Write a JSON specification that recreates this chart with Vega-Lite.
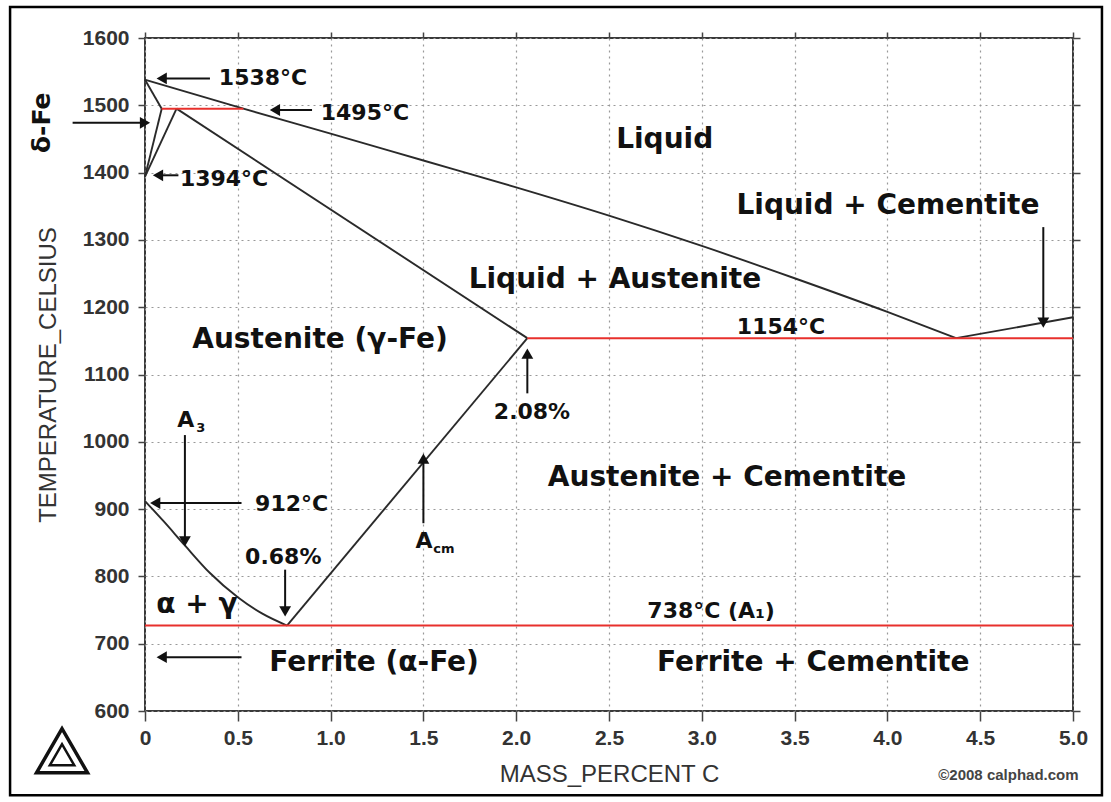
{
  "$schema": "https://vega.github.io/schema/vega-lite/v6.json",
  "width": 928,
  "height": 673,
  "autosize": {"type": "none"},
  "padding": {"left": 145, "top": 38, "right": 38, "bottom": 91},
  "background": "white",
  "config": {
    "view": {"stroke": "#3a3a3a", "strokeWidth": 2},
    "axis": {
      "labelFont": "Liberation Sans",
      "titleFont": "Liberation Sans",
      "labelFontSize": 21,
      "labelFontWeight": "bold",
      "labelColor": "#333",
      "titleColor": "#333",
      "titleFontWeight": "normal",
      "titleFontSize": 24,
      "tickColor": "#444",
      "tickWidth": 1.5,
      "domain": false,
      "gridColor": "#999999",
      "gridDash": [2, 4],
      "gridWidth": 1.2
    }
  },
  "datasets": {
    "bounds": [
      {"seg": "delta_solidus", "ord": 0, "c": 0, "t": 1538},
      {"seg": "delta_solidus", "ord": 1, "c": 0.09, "t": 1495},
      {"seg": "liquidus", "ord": 0, "c": 0, "t": 1538},
      {"seg": "liquidus", "ord": 1, "c": 0.53, "t": 1495},
      {"seg": "liquidus", "ord": 2, "c": 1.0, "t": 1458},
      {"seg": "liquidus", "ord": 3, "c": 1.5, "t": 1418},
      {"seg": "liquidus", "ord": 4, "c": 2.0, "t": 1378},
      {"seg": "liquidus", "ord": 5, "c": 2.5, "t": 1336},
      {"seg": "liquidus", "ord": 6, "c": 3.0, "t": 1291},
      {"seg": "liquidus", "ord": 7, "c": 3.5, "t": 1243},
      {"seg": "liquidus", "ord": 8, "c": 4.0, "t": 1193},
      {"seg": "liquidus", "ord": 9, "c": 4.37, "t": 1154},
      {"seg": "delta_gamma_1", "ord": 0, "c": 0.09, "t": 1495},
      {"seg": "delta_gamma_1", "ord": 1, "c": 0, "t": 1394},
      {"seg": "delta_gamma_2", "ord": 0, "c": 0.17, "t": 1495},
      {"seg": "delta_gamma_2", "ord": 1, "c": 0, "t": 1394},
      {"seg": "solidus", "ord": 0, "c": 0.17, "t": 1495},
      {"seg": "solidus", "ord": 1, "c": 2.06, "t": 1154},
      {"seg": "A3", "ord": 0, "c": 0, "t": 912},
      {"seg": "A3", "ord": 1, "c": 0.1, "t": 882},
      {"seg": "A3", "ord": 2, "c": 0.215, "t": 846},
      {"seg": "A3", "ord": 3, "c": 0.35, "t": 805},
      {"seg": "A3", "ord": 4, "c": 0.5, "t": 769},
      {"seg": "A3", "ord": 5, "c": 0.63, "t": 745},
      {"seg": "A3", "ord": 6, "c": 0.765, "t": 727},
      {"seg": "Acm", "ord": 0, "c": 0.765, "t": 727},
      {"seg": "Acm", "ord": 1, "c": 2.06, "t": 1154},
      {"seg": "cem_liquidus", "ord": 0, "c": 4.37, "t": 1154},
      {"seg": "cem_liquidus", "ord": 1, "c": 5.0, "t": 1185}
    ],
    "isotherms": [
      {"c1": 0.09, "c2": 0.53, "t": 1495},
      {"c1": 2.06, "c2": 5.0, "t": 1154},
      {"c1": 0.0, "c2": 5.0, "t": 727}
    ],
    "arrows": [
      {"x": 0.35, "y": 1540, "x2": 0.09, "y2": 1540, "dir": "left"},
      {"x": 0.9, "y": 1493, "x2": 0.7, "y2": 1493, "dir": "left"},
      {"x": -0.39, "y": 1474, "x2": 0.0, "y2": 1474, "dir": "right"},
      {"x": 0.18, "y": 1396, "x2": 0.07, "y2": 1396, "dir": "left"},
      {"x": 0.215, "y": 1010, "x2": 0.215, "y2": 852, "dir": "down"},
      {"x": 0.52, "y": 909, "x2": 0.055, "y2": 909, "dir": "left"},
      {"x": 0.755, "y": 810, "x2": 0.755, "y2": 748, "dir": "down"},
      {"x": 0.52, "y": 680, "x2": 0.09, "y2": 680, "dir": "left"},
      {"x": 1.5, "y": 879, "x2": 1.5, "y2": 975, "dir": "up"},
      {"x": 2.06, "y": 1072, "x2": 2.06, "y2": 1131, "dir": "up"},
      {"x": 4.84, "y": 1319, "x2": 4.84, "y2": 1177, "dir": "down"}
    ],
    "regions": [
      {"label": "Liquid", "c": 2.8, "t": 1448},
      {"label": "Liquid + Cementite", "c": 4.003, "t": 1351},
      {"label": "Liquid + Austenite", "c": 2.532, "t": 1240},
      {"label": "Austenite (γ-Fe)", "c": 0.943, "t": 1151},
      {"label": "Austenite + Cementite", "c": 3.136, "t": 946},
      {"label": "Ferrite (α-Fe)", "c": 1.234, "t": 672},
      {"label": "Ferrite + Cementite", "c": 3.6, "t": 672},
      {"label": "α + γ", "c": 0.28, "t": 758}
    ],
    "notes": [
      {"label": "1538°C", "c": 0.636, "t": 1540},
      {"label": "1495°C", "c": 1.185, "t": 1489},
      {"label": "1394°C", "c": 0.426, "t": 1390},
      {"label": "912°C", "c": 0.79, "t": 908},
      {"label": "0.68%", "c": 0.745, "t": 829},
      {"label": "2.08%", "c": 2.085, "t": 1045},
      {"label": "1154°C", "c": 3.427, "t": 1171},
      {"label": "738°C (A₁)", "c": 3.05, "t": 749},
      {"label": "A", "c": 0.22, "t": 1033},
      {"label": "A", "c": 1.503, "t": 853}
    ],
    "subs": [
      {"label": "3", "c": 0.3, "t": 1020},
      {"label": "cm", "c": 1.61, "t": 840}
    ]
  },
  "layer": [
    {
      "data": {"name": "bounds"},
      "mark": {"type": "line", "color": "#2a2a2a", "strokeWidth": 1.9, "interpolate": "monotone"},
      "encoding": {
        "x": {
          "field": "c", "type": "quantitative",
          "scale": {"domain": [0, 5], "nice": false, "zero": false},
          "axis": {
            "orient": "bottom",
            "title": "MASS_PERCENT C",
            "values": [0, 0.5, 1, 1.5, 2, 2.5, 3, 3.5, 4, 4.5, 5],
            "labelExpr": "datum.value == 0 ? '0' : format(datum.value, '.1f')",
            "grid": true,
            "tickSize": 10,
            "labelPadding": 6,
            "titlePadding": 14,
            "labelFlush": false
          }
        },
        "y": {
          "field": "t", "type": "quantitative",
          "scale": {"domain": [600, 1600], "nice": false, "zero": false},
          "axis": {
            "orient": "left",
            "title": "TEMPERATURE_CELSIUS",
            "values": [600, 700, 800, 900, 1000, 1100, 1200, 1300, 1400, 1500, 1600],
            "format": "d",
            "grid": true,
            "tickSize": 7,
            "labelPadding": 9,
            "titlePadding": 22,
            "labelFlush": false
          }
        },
        "detail": {"field": "seg"},
        "order": {"field": "ord", "type": "quantitative"}
      }
    },
    {
      "data": {"values": [{"c": 0, "t": 600}]},
      "mark": {"type": "point", "opacity": 0},
      "encoding": {
        "x": {
          "field": "c", "type": "quantitative",
          "scale": {"domain": [0, 5], "nice": false, "zero": false},
          "axis": {"orient": "top", "title": null, "labels": false, "grid": false, "tickSize": 6,
                   "values": [0, 0.5, 1, 1.5, 2, 2.5, 3, 3.5, 4, 4.5, 5]}
        },
        "y": {
          "field": "t", "type": "quantitative",
          "scale": {"domain": [600, 1600], "nice": false, "zero": false},
          "axis": {"orient": "right", "title": null, "labels": false, "grid": false, "tickSize": 7,
                   "values": [600, 700, 800, 900, 1000, 1100, 1200, 1300, 1400, 1500, 1600]}
        }
      }
    },
    {
      "data": {"name": "isotherms"},
      "mark": {"type": "rule", "color": "#e8302c", "strokeWidth": 2},
      "encoding": {
        "x": {"field": "c1", "type": "quantitative", "axis": null},
        "x2": {"field": "c2"},
        "y": {"field": "t", "type": "quantitative", "axis": null}
      }
    },
    {
      "data": {"name": "arrows"},
      "mark": {"type": "rule", "color": "#111", "strokeWidth": 2},
      "encoding": {
        "x": {"field": "x", "type": "quantitative", "axis": null},
        "x2": {"field": "x2"},
        "y": {"field": "y", "type": "quantitative", "axis": null},
        "y2": {"field": "y2"}
      }
    },
    {
      "data": {"name": "arrows"},
      "mark": {"type": "point", "filled": true, "color": "#111", "opacity": 1, "size": 140},
      "encoding": {
        "x": {"field": "x2", "type": "quantitative", "axis": null},
        "y": {"field": "y2", "type": "quantitative", "axis": null},
        "shape": {
          "field": "dir", "type": "nominal", "legend": null,
          "scale": {"domain": ["left", "right", "up", "down"],
                    "range": ["triangle-left", "triangle-right", "triangle-up", "triangle-down"]}
        }
      }
    },
    {
      "data": {"name": "regions"},
      "mark": {"type": "text", "font": "DejaVu Sans", "fontWeight": "bold", "fontSize": 28, "color": "#111", "align": "center", "baseline": "middle"},
      "encoding": {
        "x": {"field": "c", "type": "quantitative", "axis": null},
        "y": {"field": "t", "type": "quantitative", "axis": null},
        "text": {"field": "label"}
      }
    },
    {
      "data": {"name": "notes"},
      "mark": {"type": "text", "font": "DejaVu Sans", "fontWeight": "bold", "fontSize": 22, "color": "#111", "align": "center", "baseline": "middle"},
      "encoding": {
        "x": {"field": "c", "type": "quantitative", "axis": null},
        "y": {"field": "t", "type": "quantitative", "axis": null},
        "text": {"field": "label"}
      }
    },
    {
      "data": {"name": "subs"},
      "mark": {"type": "text", "font": "DejaVu Sans", "fontWeight": "bold", "fontSize": 13, "color": "#111", "align": "center", "baseline": "middle"},
      "encoding": {
        "x": {"field": "c", "type": "quantitative", "axis": null},
        "y": {"field": "t", "type": "quantitative", "axis": null},
        "text": {"field": "label"}
      }
    },
    {
      "data": {"values": [{"label": "δ-Fe", "c": -0.555, "t": 1474}]},
      "mark": {"type": "text", "font": "DejaVu Sans", "fontWeight": "bold", "fontSize": 25, "color": "#111", "align": "center", "baseline": "middle", "angle": 270},
      "encoding": {
        "x": {"field": "c", "type": "quantitative", "axis": null},
        "y": {"field": "t", "type": "quantitative", "axis": null},
        "text": {"field": "label"}
      }
    },
    {
      "data": {"values": [{"c1": -0.727, "c2": 5.156, "t1": 475, "t2": 1646}]},
      "mark": {"type": "rect", "filled": false, "stroke": "#000", "strokeWidth": 2.5},
      "encoding": {
        "x": {"field": "c1", "type": "quantitative", "axis": null},
        "x2": {"field": "c2"},
        "y": {"field": "t1", "type": "quantitative", "axis": null},
        "y2": {"field": "t2"}
      }
    },
    {
      "data": {"values": [{"c": -0.447, "t": 541}]},
      "mark": {"type": "point", "shape": "triangle-up", "filled": false, "color": "#111", "strokeWidth": 3.5, "size": 2600, "opacity": 1},
      "encoding": {
        "x": {"field": "c", "type": "quantitative", "axis": null},
        "y": {"field": "t", "type": "quantitative", "axis": null}
      }
    },
    {
      "data": {"values": [{"c": -0.447, "t": 535}]},
      "mark": {"type": "point", "shape": "triangle-up", "filled": false, "color": "#111", "strokeWidth": 2.5, "size": 600, "opacity": 1},
      "encoding": {
        "x": {"field": "c", "type": "quantitative", "axis": null},
        "y": {"field": "t", "type": "quantitative", "axis": null}
      }
    },
    {
      "data": {"values": [{"label": "©2008 calphad.com", "c": 5.03, "t": 505}]},
      "mark": {"type": "text", "font": "Liberation Sans", "fontWeight": "bold", "fontSize": 15, "color": "#444", "align": "right", "baseline": "middle"},
      "encoding": {
        "x": {"field": "c", "type": "quantitative", "axis": null},
        "y": {"field": "t", "type": "quantitative", "axis": null},
        "text": {"field": "label"}
      }
    }
  ],
  "resolve": {"axis": {"x": "independent", "y": "independent"}}
}
